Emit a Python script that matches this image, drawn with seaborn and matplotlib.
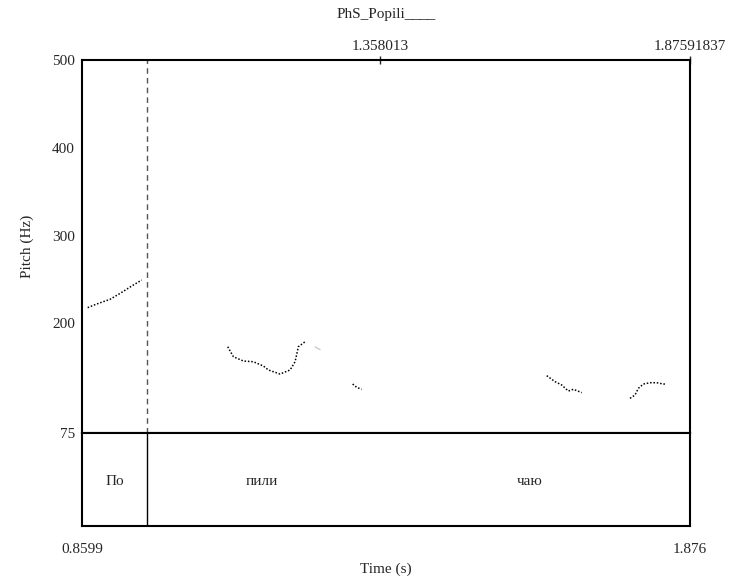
import numpy as np
import pandas as pd
import matplotlib
matplotlib.use("Agg")
import matplotlib.pyplot as plt
import seaborn as sns

# ---- data ----
t_start, t_end = 0.8599, 1.87591837
boundary = 0.9685
cursor_time = 1.358013
title = "PhS_Popili____"

seg1_t = [0.8694, 0.8845, 0.9067, 0.9234, 0.9430, 0.9597]
seg1_f = [217.8, 222.0, 227.3, 234.0, 242.5, 249.3]
seg2_t = [1.1034, 1.1129, 1.1296, 1.1463, 1.1630, 1.1714, 1.1909, 1.2076, 1.2160, 1.2215, 1.2327]
seg2_f = [173.3, 161.9, 157.0, 156.2, 151.3, 146.8, 142.2, 146.8, 156.2, 173.3, 179.0]
seg3_t = [1.3122, 1.3189, 1.3272]
seg3_f = [130.8, 127.0, 124.8]
seg4_t = [1.6365, 1.6504, 1.6615, 1.6726, 1.6810, 1.6950]
seg4_f = [140.3, 133.5, 129.7, 122.8, 124.8, 121.0]
seg5_t = [1.7757, 1.7840, 1.7896, 1.7980, 1.8091, 1.8203, 1.8314, 1.8370]
seg5_f = [114.5, 118.3, 125.9, 130.8, 132.3, 132.3, 130.8, 130.8]
faint_t = [1.2494, 1.2578]
faint_f = [173.0, 170.0]

y_ticks = [75, 200, 300, 400, 500]
tier_labels = ["По", "пили", "чаю"]
tier_times = [0.9142, 1.1607, 1.6086]

# ---- style ----
sns.set_style("white")
plt.rcParams["font.family"] = ["Liberation Serif", "DejaVu Serif"]
plt.rcParams["font.size"] = 11

fig = plt.figure(figsize=(7.32, 5.81), dpi=100)
W, H = 732, 581
L, R = 82, 690
TOP, MID, BOT = 60, 433, 526
ax = fig.add_axes([L / W, 1 - MID / H, (R - L) / W, (MID - TOP) / H])
axt = fig.add_axes([L / W, 1 - BOT / H, (R - L) / W, (BOT - MID) / H])

segs = [(seg1_t, seg1_f), (seg2_t, seg2_f), (seg3_t, seg3_f), (seg4_t, seg4_f), (seg5_t, seg5_f)]
rows = []
for i, (tt, ff) in enumerate(segs):
    for a, b in zip(tt, ff):
        rows.append({"time": a, "pitch": b, "seg": i})
df = pd.DataFrame(rows)
sns.lineplot(data=df, x="time", y="pitch", units="seg", estimator=None,
             color="black", linestyle=(0, (1, 1.2)), linewidth=1.1, ax=ax)
sns.lineplot(x=faint_t, y=faint_f, color="#cccccc", linewidth=1.0, ax=ax)

ax.set_xlim(t_start, t_end)
ax.set_ylim(75, 500)
ax.axvline(boundary, color="#555555", linestyle=(0, (4, 3)), linewidth=1.0)
ax.set_yticks(y_ticks)
ax.set_yticklabels([str(v) for v in y_ticks])
ax.set_ylabel("Pitch (Hz)", fontsize=11, labelpad=13)
ax.set_xlabel("")
ax.tick_params(axis="y", direction="out", length=4, width=1, pad=1, labelsize=11)
ax.xaxis.set_ticks_position("top")
ax.set_xticks([cursor_time, t_end])
ax.set_xticklabels(["1.358013", "1.87591837"])
ax.tick_params(axis="x", direction="inout", length=6, width=1, pad=2, labelsize=11)
for s in ax.spines.values():
    s.set_linewidth(1.5)
    s.set_color("black")
ax.set_title(title, fontsize=11, pad=30)

axt.set_xlim(t_start, t_end)
axt.set_ylim(0, 1)
axt.axvline(boundary, color="black", linewidth=1.0)
for lab, tm in zip(tier_labels, tier_times):
    axt.text(tm, 0.48, lab, ha="center", va="center", fontsize=11)
axt.set_yticks([])
axt.set_xticks([t_start, t_end])
axt.set_xticklabels(["0.8599", "1.876"])
axt.tick_params(axis="x", direction="out", length=6, width=1, pad=6, labelsize=11)
axt.set_xlabel("Time (s)", fontsize=11, labelpad=5)
for s in axt.spines.values():
    s.set_linewidth(1.5)
    s.set_color("black")

fig.savefig("out.png", dpi=100)
